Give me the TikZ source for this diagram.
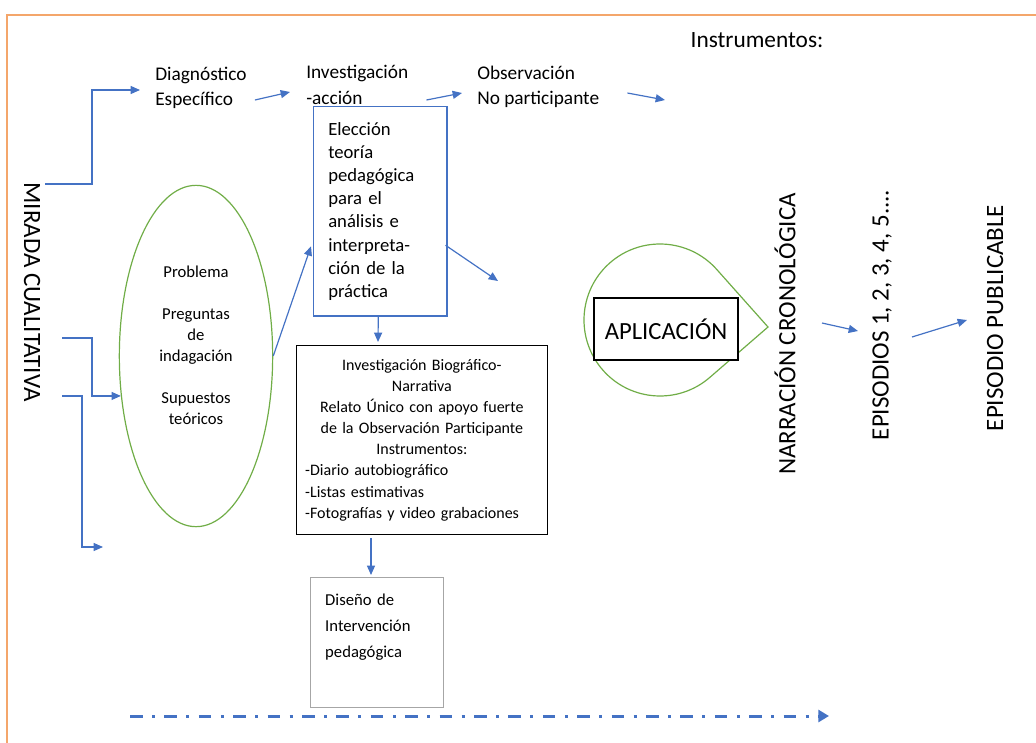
\documentclass[tikz,border=0pt]{standalone}
\usepackage{fontspec}
\setmainfont{Carlito}
\usetikzlibrary{arrows.meta, shapes.geometric, positioning, calc}
\definecolor{wordblue}{HTML}{4472C4}
\definecolor{wordgreen}{HTML}{70AD47}
\definecolor{frameorange}{HTML}{F4A66B}
\definecolor{boxgray}{HTML}{A6A6A6}

\begin{document}
\begin{tikzpicture}[
    x=0.75pt, y=-0.75pt,
    arr/.style={-{Triangle[length=7pt,width=6pt]}, wordblue, line width=0.9pt},
    lbl/.style={align=left, inner sep=0pt, font=\fontsize{14.5}{19}\selectfont},
    vlbl/.style={inner sep=0pt, font=\fontsize{18.7}{22}\selectfont},
    oval/.style={ellipse, draw=wordgreen, line width=0.9pt, minimum width=115pt, minimum height=256pt, align=center, inner sep=0pt, font=\fontsize{12.5}{15.75}\selectfont},
    elbox/.style={draw=wordblue, line width=0.9pt, align=left, text width=78pt, inner xsep=11pt, minimum height=157pt, font=\fontsize{14}{17.4}\selectfont},
    biobox/.style={draw=black, line width=0.8pt, align=center, text width=175pt, inner xsep=6.5pt, minimum height=142pt, font=\fontsize{12}{15.8}\selectfont},
    disbox/.style={draw=boxgray, line width=0.8pt, align=left, text width=78pt, inner xsep=11pt, inner ysep=0pt, text height=20.75pt, text depth=76.75pt, font=\fontsize{12.5}{19.5}\selectfont},
    apbox/.style={draw=black, fill=white, line width=0.8pt, minimum width=108pt, minimum height=46.5pt, font=\fontsize{18.5}{22}\selectfont}
]
    \useasboundingbox (0,0) rectangle (1036,743);

    % Frame
    \draw[frameorange, line width=1.2pt] (7,743) -- (7,15) -- (1036,15);

    % Left label
    \node[vlbl, rotate=-90] (mirada) at (32,292) {MIRADA CUALITATIVA};
    \coordinate (m1) at (45,184);
    \coordinate (m2) at (62,338);
    \coordinate (m3) at (62,396);
    \coordinate (m3end) at (103,547);

    % Top row
    \node[lbl, anchor=west] (diag) at (155,88) {Diagnóstico\\Específico};
    \node[lbl, anchor=west] (inv) at (306,85) {Investigación\\-acción};
    \node[lbl, anchor=west] (obs) at (477,87) {Observación\\No participante};
    \node[inner sep=0pt, font=\fontsize{17.5}{21}\selectfont] (instr) at (757,40) {Instrumentos:};
    \coordinate (obsend) at (665,100);

    % Problem ellipse
    \node[oval] (ell) at (196,356) {Problema\\[15.75pt]Preguntas\\de\\indagación\\[15.75pt]Supuestos\\teóricos\\[0.75pt]\mbox{}};

    % Theory box
    \node[elbox, anchor=north west] (elec) at (313,106) {Elección\\teoría\\pedagógica\\para el\\análisis e\\interpreta-\\ción de la\\práctica};
    \coordinate (elecend) at (498,281);

    % Biographic-narrative box
    \node[biobox, anchor=north west] (bio) at (296,345) {Investigación Biográfico-\\Narrativa\\Relato Único con apoyo fuerte\\de la Observación Participante\\Instrumentos:\\\makebox[175pt][l]{-Diario autobiográfico}\\\makebox[175pt][l]{-Listas estimativas}\\\makebox[175pt][l]{-Fotografías y video grabaciones}};

    % Design box
    \node[disbox, anchor=north west] (dis) at (310,577) {Diseño de\\Intervención\\pedagógica};

    % Application drop
    \draw[wordgreen, line width=0.9pt] (768,327) -- ($(660,320)+(-41.7:76)$) arc[start angle=-41.7, end angle=-310.9, radius=76] -- cycle;
    \node[apbox] (apl) at (666,329) {APLICACIÓN};

    % Right vertical labels
    \node[vlbl, rotate=90] (narr) at (785,334) {NARRACIÓN CRONOLÓGICA};
    \node[vlbl, rotate=90] (epis) at (882,315) {EPISODIOS 1, 2, 3, 4, 5....};
    \node[vlbl, rotate=90] (publ) at (995,318) {EPISODIO PUBLICABLE};

    % Time line
    \coordinate (tl) at (130,716);
    \coordinate (tr) at (829,716);

    % Connectors
    \draw[arr] (m1) -- ++(47,0) |- ($(diag.west)+(-15,2)$);
    \draw[arr] (m2) -- ++(30,0) |- (ell.208);
    \draw[arr] (m3) -- ++(20,0) |- (m3end);
    \draw[arr] ($(diag.east)+(8,12)$) -- ($(inv.west)+(-16,7)$);
    \draw[arr] ($(inv.east)+(18,15)$) -- ($(obs.west)+(-15,6)$);
    \draw[arr] ($(obs.east)+(28,6)$) -- (obsend);
    \draw[arr] (ell.east) -- ($(elec.west)+(-2,35)$);
    \draw[arr] ($(elec.east)+(-2,34)$) -- (elecend);
    \draw[arr] ($(elec.south)+(-2,0)$) -- ($(bio.north west)+(82,-3)$);
    \draw[arr] ($(bio.south west)+(75,3)$) -- ($(dis.north west)+(61,-2)$);
    \draw[arr] ($(narr.center)+(37,-11)$) -- ($(epis.center)+(-24,16)$);
    \draw[arr] ($(epis.center)+(30,22)$) -- ($(publ.center)+(-28,2)$);
    \draw[-{Triangle[length=8pt,width=9pt]}, wordblue, line width=2.25pt, dash pattern=on 9.5pt off 7pt on 2.3pt off 7pt] (tl) -- (tr);
\end{tikzpicture}
\end{document}
